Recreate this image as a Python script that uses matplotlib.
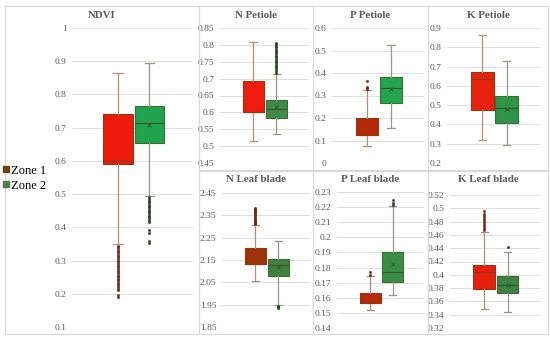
import matplotlib
matplotlib.use("Agg")
import matplotlib.pyplot as plt
from matplotlib.patches import Rectangle
from matplotlib.lines import Line2D
import numpy as np

plt.rcParams['font.family'] = ['Liberation Serif', 'DejaVu Serif']

# ---------------- data ----------------
panels = ["NDVI", "N Petiole", "P Petiole", "K Petiole",
          "N Leaf blade", "P Leaf blade", "K Leaf blade"]
zones = ["Zone 1", "Zone 2"]

# [whislo, q1, median, q3, whishi] for Zone 1 and Zone 2
z1_stats = [
    [0.35, 0.59, 0.60, 0.74, 0.865],
    [0.515, 0.602, 0.602, 0.694, 0.809],
    [0.074, 0.123, 0.123, 0.201, 0.324],
    [0.319, 0.475, 0.634, 0.673, 0.864],
    [2.055, 2.134, 2.134, 2.204, 2.307],
    [0.1516, 0.1565, 0.1565, 0.1632, 0.1742],
    [0.349, 0.3785, 0.404, 0.414, 0.465],
]
z2_stats = [
    [0.495, 0.655, 0.715, 0.765, 0.895],
    [0.535, 0.584, 0.61, 0.637, 0.713],
    [0.155, 0.268, 0.332, 0.381, 0.524],
    [0.293, 0.409, 0.484, 0.549, 0.73],
    [1.948, 2.077, 2.126, 2.155, 2.233],
    [0.1618, 0.1704, 0.1768, 0.1903, 0.2205],
    [0.344, 0.372, 0.385, 0.398, 0.434],
]
z2_means = [0.707, 0.615, 0.33, 0.48, 2.12, 0.1826, 0.385]

z1_outliers = [
    [0.345, 0.34, 0.335, 0.33, 0.325, 0.32, 0.315, 0.31, 0.305, 0.30, 0.295, 0.29,
     0.285, 0.28, 0.275, 0.27, 0.265, 0.26, 0.255, 0.25, 0.245, 0.24, 0.235, 0.23,
     0.225, 0.22, 0.215, 0.21, 0.196, 0.189],
    [],
    [0.33, 0.335, 0.34, 0.366],
    [],
    [2.31, 2.315, 2.32, 2.325, 2.33, 2.335, 2.34, 2.345, 2.35, 2.355, 2.36, 2.365,
     2.37, 2.375, 2.38, 2.385],
    [0.1752, 0.1768],
    [0.468, 0.471, 0.474, 0.477, 0.48, 0.483, 0.486, 0.489, 0.492, 0.4965],
]
z2_outliers = [
    [0.49, 0.485, 0.48, 0.475, 0.47, 0.465, 0.46, 0.455, 0.45, 0.445, 0.44, 0.435,
     0.43, 0.425, 0.42, 0.415, 0.392, 0.384, 0.359, 0.352],
    [0.718, 0.723, 0.728, 0.733, 0.738, 0.743, 0.748, 0.753, 0.758, 0.763, 0.768,
     0.773, 0.778, 0.783, 0.788, 0.793, 0.798, 0.803, 0.806],
    [],
    [],
    [1.943, 1.938, 1.933],
    [0.2215, 0.223, 0.2245],
    [0.442],
]

y_ranges = [  # (min, max, step)
    (0.1, 1.0, 0.1),
    (0.45, 0.85, 0.05),
    (0.0, 0.6, 0.1),
    (0.2, 0.9, 0.1),
    (1.85, 2.45, 0.1),
    (0.14, 0.23, 0.01),
    (0.32, 0.52, 0.02),
]

# ---------------- styles ----------------
W, H = 550, 341
# plot areas in pixels: (left, top, right, bottom)
plot_px = [
    (72, 28, 193, 327),
    (220, 28, 308, 163),
    (332, 28, 424, 163),
    (447, 28, 540, 163),
    (222, 193, 310, 327),
    (337, 192, 424, 328),
    (450, 195, 540, 328),
]
panel_px = [
    (5, 6, 199, 334),
    (199, 6, 313, 170), (313, 6, 428, 170), (428, 6, 548, 170),
    (199, 171, 313, 334), (313, 171, 428, 334), (428, 171, 548, 334),
]
title_y = [15, 15, 15, 15, 180, 180, 180]
z1_fill = ["#f01a0c", "#ee1c0e", "#b3290a", "#e8200e", "#9c3309", "#b52a0a", "#e41f0e"]
z2_fill = ["#1fa34c", "#3f8a48", "#23a44d", "#2f9446", "#437f41", "#3b8d45", "#3c8444"]
z1_edge = "#8b3a12"
z2_edge = "#3d6b35"
z1_whisk = "#b88a78"
z2_whisk = "#8f9a88"
txt = "#595959"
grid_c = "#d9d9d9"

fig = plt.figure(figsize=(W / 100, H / 100), dpi=100)

# panel borders
for (l, t, r, b) in panel_px:
    fig.add_artist(Rectangle((l / W, 1 - b / H), (r - l) / W, (b - t) / H,
                             transform=fig.transFigure, fill=False,
                             edgecolor="#d9d9d9", linewidth=0.8))

def fmt(v):
    return f"{v:.2f}".rstrip("0").rstrip(".")

for i, name in enumerate(panels):
    l, t, r, b = plot_px[i]
    ax = fig.add_axes([l / W, 1 - b / H, (r - l) / W, (b - t) / H])
    lo, hi, st = y_ranges[i]
    ticks = np.round(np.arange(lo, hi + st / 2, st), 3)

    s1 = z1_stats[i]
    s2 = z2_stats[i]
    st1 = dict(whislo=s1[0], q1=s1[1], med=s1[2], q3=s1[3], whishi=s1[4],
               fliers=z1_outliers[i], mean=s1[2])
    st2 = dict(whislo=s2[0], q1=s2[1], med=s2[2], q3=s2[3], whishi=s2[4],
               fliers=z2_outliers[i], mean=z2_means[i])
    ax.bxp([st1], positions=[0.38], widths=[0.24], capwidths=[0.08],
           patch_artist=True, showmeans=False, manage_ticks=False,
           boxprops=dict(facecolor=z1_fill[i], edgecolor=z1_edge, linewidth=0.8),
           medianprops=dict(color=z1_edge, linewidth=0.8),
           whiskerprops=dict(color=z1_whisk, linewidth=0.9),
           capprops=dict(color=z1_whisk, linewidth=0.9),
           flierprops=dict(marker="o", markersize=1.7, markerfacecolor="#6a2a10",
                           markeredgecolor="#6a2a10", markeredgewidth=0.3),
           zorder=3)
    ax.bxp([st2], positions=[0.64], widths=[0.24], capwidths=[0.08],
           patch_artist=True, showmeans=True, manage_ticks=False,
           boxprops=dict(facecolor=z2_fill[i], edgecolor=z2_edge, linewidth=0.8),
           medianprops=dict(color="#2f5a2c", linewidth=0.8),
           meanprops=dict(marker="x", markersize=3, markeredgecolor="#2f5a2c",
                          markeredgewidth=0.7),
           whiskerprops=dict(color=z2_whisk, linewidth=0.9),
           capprops=dict(color=z2_whisk, linewidth=0.9),
           flierprops=dict(marker="o", markersize=1.7, markerfacecolor="#23401f",
                           markeredgecolor="#23401f", markeredgewidth=0.3),
           zorder=3)

    ax.set_ylim(lo, hi)
    ax.set_xlim(0, 1)
    ax.set_yticks(ticks)
    ax.set_yticklabels([fmt(v) for v in ticks], color=txt, fontsize=6.8)
    ax.tick_params(axis="y", length=0, pad=4)
    ax.set_xticks([])
    for s in ax.spines.values():
        s.set_visible(False)
    ax.grid(axis="y", color=grid_c, linewidth=0.6)
    ax.set_axisbelow(True)

    cx = ((panel_px[i][0] + panel_px[i][2]) / 2) / W
    fig.text(cx, 1 - title_y[i] / H, name, ha="center", va="center", fontsize=7.8,
             fontweight="bold", color=txt)

# legend
handles = [Line2D([], [], linestyle="none", marker="s", markersize=4,
                  markerfacecolor=c, markeredgecolor=c)
           for c in ["#6e4410", "#4f7e4a"]]
fig.legend(handles, zones, loc="upper left", bbox_to_anchor=(0.0, 1 - 162 / H),
           frameon=False, fontsize=9, handlelength=0.5, handletextpad=0.2,
           labelspacing=0.25, borderaxespad=0, borderpad=0.2)

fig.savefig("out.png", dpi=100)
